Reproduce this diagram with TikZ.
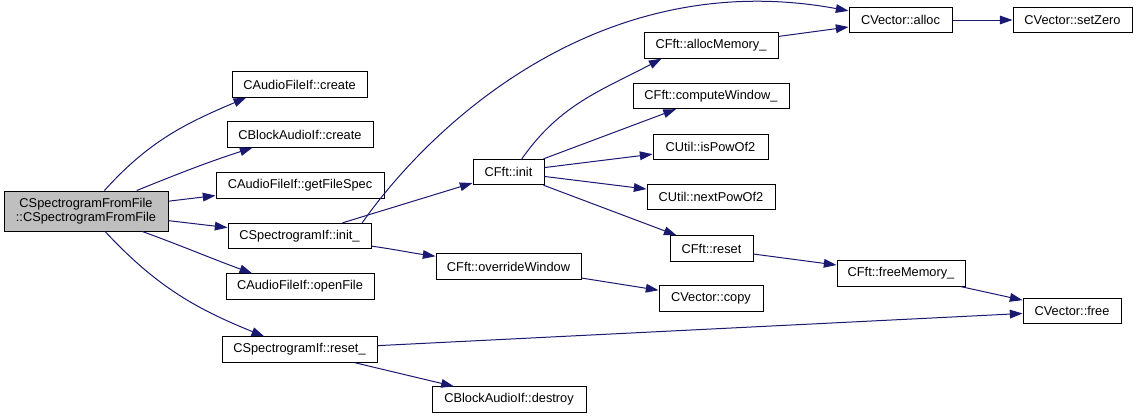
\documentclass[tikz,border=0pt]{standalone}
\usepackage{fontspec}
\setmainfont{Liberation Sans}
\usetikzlibrary{arrows.meta}
\definecolor{edgeblue}{HTML}{191970}
\definecolor{maingray}{HTML}{BFBFBF}

\begin{document}
\begin{tikzpicture}[x=0.75pt,y=0.75pt,
		fn/.style={draw,line width=0.75pt,minimum height=19pt,inner sep=0pt,font=\fontsize{9.6pt}{10.5pt}\selectfont},
		edge/.style={color=edgeblue,line width=0.75pt,-{Triangle[length=9.5pt,width=6.5pt]}}]
			\useasboundingbox (0,0) rectangle (1137,-419);

			% caller
			\node[fn,fill=maingray,align=center,minimum width=123pt,minimum height=30pt] (main) at (86,-211) {CSpectrogramFromFile\\::CSpectrogramFromFile};

			\node[fn,minimum width=101.25pt] (create) at (299.5,-84.5) {CAudioFileIf::create};
			\node[fn,minimum width=109.5pt] (bcreate) at (300,-134.5) {CBlockAudioIf::create};
			\node[fn,minimum width=126pt] (gfs) at (300,-185.5) {CAudioFileIf::getFileSpec};
			\node[fn,minimum width=107.25pt] (init) at (299.5,-236) {CSpectrogramIf::init\_};
			\node[fn,minimum width=111pt] (ofile) at (300,-286.5) {CAudioFileIf::openFile};
			\node[fn,minimum width=116.25pt] (reset) at (299.5,-349.5) {CSpectrogramIf::reset\_};

			\node[fn,minimum width=53.25pt] (cinit) at (508.5,-172) {CFft::init};
			\node[fn,minimum width=108.75pt] (ovw) at (508.5,-266.5) {CFft::overrideWindow};
			\node[fn,minimum width=115.5pt] (destroy) at (509,-399.5) {CBlockAudioIf::destroy};

			\node[fn,minimum width=100.5pt] (amem) at (711,-45.5) {CFft::allocMemory\_};
			\node[fn,minimum width=117pt] (cwin) at (711,-96) {CFft::computeWindow\_};
			\node[fn,minimum width=86.25pt] (ispow) at (710.5,-147) {CUtil::isPowOf2};
			\node[fn,minimum width=96pt] (npow) at (711,-197) {CUtil::nextPowOf2};
			\node[fn,minimum width=62.25pt] (creset) at (711.5,-248.5) {CFft::reset};
			\node[fn,minimum width=78pt] (copy) at (711,-298.5) {CVector::copy};

			\node[fn,minimum width=77.25pt] (alloc) at (900.5,-20) {CVector::alloc};
			\node[fn,minimum width=96pt] (freemem) at (901,-273.5) {CFft::freeMemory\_};
			\node[fn,minimum width=89.25pt] (setzero) at (1072.5,-20) {CVector::setZero};
			\node[fn,minimum width=73.5pt] (free) at (1072,-311) {CVector::free};

			% calls
			\draw[edge] (main) to[out=48,in=203] ([xshift=11pt]create.south west);
			\draw[edge] (main) to[out=22,in=198] ([xshift=19.5pt]bcreate.south west);
			\draw[edge] (main) -- (gfs);
			\draw[edge] (main) -- (init);
			\draw[edge] (main) to[out=-20,in=160] ([xshift=20pt]ofile.north west);
			\draw[edge] (main) to[out=-47,in=158] ([xshift=32pt]reset.north west);

			\draw[edge] (init) -- (cinit);
			\draw[edge] (init) to[out=-8,in=172] (ovw);
			\draw[edge] ([xshift=-7pt]init.north east) .. controls (431,-125) and (600,35) .. (alloc.170);

			\draw[edge] ([xshift=10pt]cinit.north) to[out=55,in=208] ([xshift=13.5pt]amem.south west);
			\draw[edge] (cinit) -- (cwin);
			\draw[edge] (cinit) -- (ispow);
			\draw[edge] (cinit) -- (npow);
			\draw[edge] (cinit) -- (creset);

			\draw[edge] (amem) -- (alloc);
			\draw[edge] (alloc) -- (setzero);
			\draw[edge] (creset) -- (freemem);
			\draw[edge] (freemem) -- (free);
			\draw[edge] (ovw) -- (copy);
			\draw[edge] (reset) -- (free);
			\draw[edge] (reset) -- (destroy);

			% \draw[help lines,step=50] (0,0) grid (1137,-419);
		\end{tikzpicture}
\end{document}
